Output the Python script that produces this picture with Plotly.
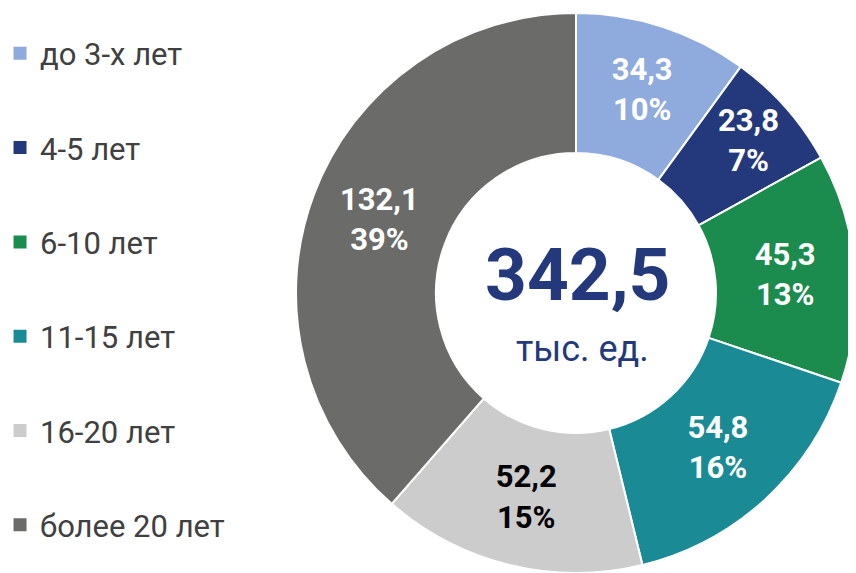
import plotly.graph_objects as go

labels = ["до 3-х лет", "4-5 лет", "6-10 лет", "11-15 лет", "16-20 лет", "более 20 лет"]
values = [34.3, 23.8, 45.3, 54.8, 52.2, 132.1]
colors = ["#8FAADC", "#24397C", "#1C8C4E", "#1A8A94", "#CCCCCC", "#6B6B6A"]
text_colors = ["white", "white", "white", "white", "black", "white"]
total_label = "342,5"
unit_label = "тыс. ед."

OFF = 8  # page body margin shifts the plot by 8px
W, H = 856 - OFF, 573 - OFF


def px(xw):
    return (xw - OFF) / W


def py(yw):
    return 1 - (yw - OFF) / H


# pie box in window pixels: left 296, top 13, clipped by the window edge
dom_x = [px(296), 1]
dom_y = [0, py(13)]

fig = go.Figure()
fig.add_trace(
    go.Pie(
        labels=labels,
        values=values,
        sort=False,
        direction="clockwise",
        rotation=0,
        hole=0.5,
        domain=dict(x=dom_x, y=dom_y),
        marker=dict(colors=colors, line=dict(color="white", width=2)),
        texttemplate="<b>%{value:.1f}<br>%{percent:.0%}</b>",
        textposition="inside",
        insidetextorientation="horizontal",
        insidetextfont=dict(family="Roboto", size=31, color=text_colors),
        showlegend=False,
        hoverinfo="skip",
    )
)

# legend entries as separate square markers
for i, (lab, col) in enumerate(zip(labels, colors)):
    fig.add_trace(
        go.Scatter(
            x=[None], y=[None], mode="markers", name=lab,
            marker=dict(symbol="square", size=13, color=col),
            legendgroup=str(i),
        )
    )

fig.add_annotation(x=px(578), y=py(275), xref="paper", yref="paper",
                   xanchor="center", yanchor="middle",
                   text="<b>" + total_label + "</b>",
                   showarrow=False, font=dict(family="Roboto", size=73, color="#24397C"))
fig.add_annotation(x=px(582), y=py(349), xref="paper", yref="paper",
                   xanchor="center", yanchor="middle",
                   text=unit_label,
                   showarrow=False, font=dict(family="Roboto", size=36, color="#24397C"))

fig.update_layout(
    width=W, height=H,
    margin=dict(l=0, r=0, t=0, b=0, autoexpand=False),
    paper_bgcolor="white", plot_bgcolor="white",
    separators=", ",
    xaxis=dict(visible=False), yaxis=dict(visible=False),
    legend=dict(x=-0.0094, y=0.967, xanchor="left", yanchor="top", tracegroupgap=51,
                font=dict(family="Roboto", size=31, color="#404040"),
                itemclick=False),
)

fig.write_html("out.html")
